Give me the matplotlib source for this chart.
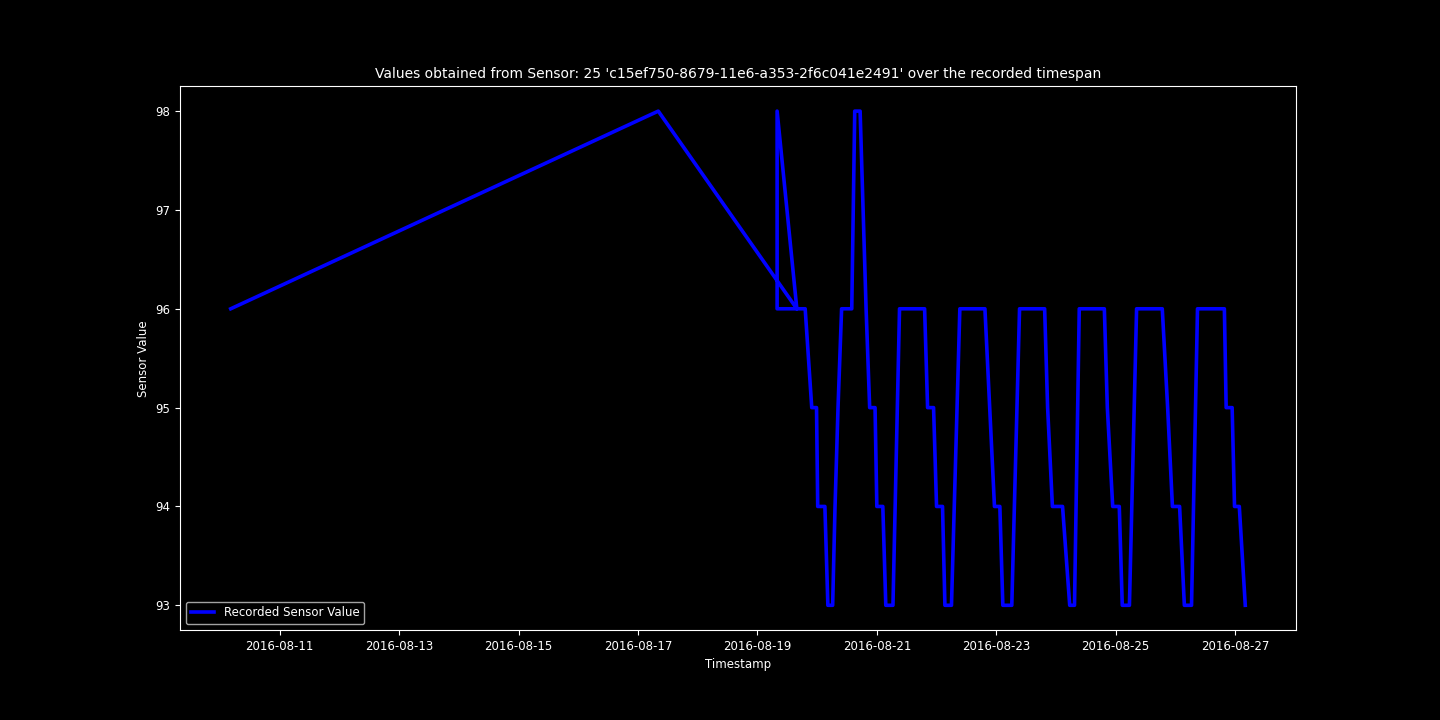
import matplotlib
matplotlib.use("Agg")
import matplotlib.pyplot as plt
import matplotlib.dates as mdates
import pandas as pd

# day of August 2016 (fractional) and recorded value, in recorded order
days = [10.18, 17.34, 19.66, 19.33, 19.33, 19.66, 19.80, 19.91, 19.99, 20.01, 20.13,
        20.18, 20.26, 20.30, 20.35, 20.41, 20.58, 20.63, 20.72, 20.82, 20.88, 20.97,
        21.00, 21.10, 21.15, 21.27, 21.38, 21.80, 21.85, 21.95, 22.00, 22.10, 22.14,
        22.25, 22.39, 22.81, 22.89, 22.97, 23.06, 23.11, 23.26, 23.39, 23.81, 23.86,
        23.94, 24.11, 24.23, 24.31, 24.39, 24.81, 24.86, 24.95, 25.06, 25.11, 25.23,
        25.35, 25.78, 25.87, 25.95, 26.07, 26.15, 26.27, 26.37, 26.82, 26.85, 26.95,
        26.99, 27.07, 27.17]
values = [96, 98, 96, 96, 98, 96, 96, 95, 95, 94, 94,
          93, 93, 94, 95, 96, 96, 98, 98, 96, 95, 95,
          94, 94, 93, 93, 96, 96, 95, 95, 94, 94, 93,
          93, 96, 96, 95, 94, 94, 93, 93, 96, 96, 95,
          94, 94, 93, 93, 96, 96, 95, 94, 94, 93, 93,
          96, 96, 95, 94, 94, 93, 93, 96, 96, 95, 95,
          94, 94, 93]

times = pd.Timestamp("2016-08-01") + pd.to_timedelta([d - 1 for d in days], unit="D")

plt.style.use("dark_background")
plt.rcParams["font.size"] = 8.5
fig = plt.figure(figsize=(14.4, 7.2), dpi=100)
ax = fig.add_axes([0.125, 0.125, 0.775, 0.755])
ax.plot(times, values, color="blue", linewidth=2.6, label="Recorded Sensor Value")
ax.xaxis.set_major_locator(mdates.DayLocator(bymonthday=[11, 13, 15, 17, 19, 21, 23, 25, 27]))
ax.xaxis.set_major_formatter(mdates.DateFormatter("%Y-%m-%d"))
ax.set_yticks([93, 94, 95, 96, 97, 98])
ax.set_title("Values obtained from Sensor: 25 'c15ef750-8679-11e6-a353-2f6c041e2491' over the recorded timespan",
             fontsize=10)
ax.set_xlabel("Timestamp")
ax.set_ylabel("Sensor Value")
ax.legend(loc="lower left")
fig.savefig("out.png", dpi=100)
